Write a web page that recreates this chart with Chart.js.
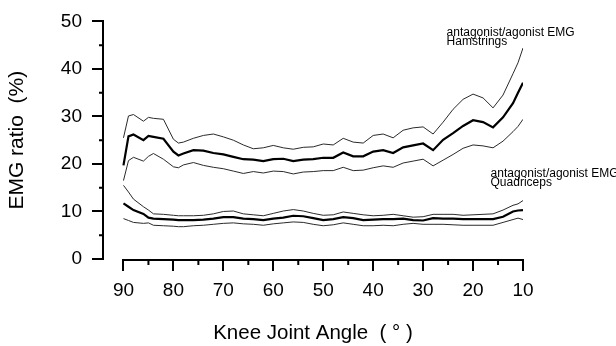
<!DOCTYPE html>
<html>
<head>
<meta charset="utf-8">
<script src="https://cdn.jsdelivr.net/npm/chart.js@4/dist/chart.umd.min.js"></script>
<style>
  html, body { margin: 0; padding: 0; background: #fff; }
</style>
</head>
<body>
<canvas id="emgChart" width="616" height="346"></canvas>
<script>
// Knee joint angle (degrees)
const angles = [90, 89, 88, 86, 85, 84, 82, 80, 79, 78, 76, 74, 72, 70, 68, 66, 64, 62, 60, 58, 56, 54, 52,
  50, 48, 46, 44, 42, 40, 38, 36, 34, 32, 30, 28, 26, 24, 22, 20, 18, 16, 14, 12, 11, 10];

// Hamstrings antagonist/agonist EMG ratio (%): mean and the two band lines
const hamMean = [19.7, 25.8, 26.2, 25.0, 25.9, 25.7, 25.3, 22.6, 21.8, 22.2, 22.9, 22.8, 22.3, 22.0, 21.5, 21.0,
  20.9, 20.6, 21.0, 21.1, 20.6, 20.9, 21.0, 21.3, 21.3, 22.4, 21.6, 21.6, 22.6, 22.9, 22.3, 23.5, 23.9, 24.3,
  22.9, 25.1, 26.5, 28.0, 29.2, 28.8, 27.7, 29.8, 32.8, 35.0, 37.1];
const hamUpper = [25.5, 30.1, 30.4, 29.0, 29.8, 29.6, 29.4, 25.2, 24.4, 24.6, 25.4, 26.0, 26.3, 25.7, 25.0, 24.0,
  23.2, 23.4, 23.9, 23.4, 23.1, 23.5, 23.6, 24.2, 24.0, 25.4, 24.6, 24.4, 26.0, 26.3, 25.5, 27.1, 27.6, 27.8,
  26.3, 28.8, 31.5, 33.6, 34.7, 33.9, 31.8, 34.5, 39.0, 41.3, 44.4];
const hamLower = [16.5, 20.7, 21.4, 20.6, 21.6, 22.2, 21.0, 19.4, 19.2, 19.8, 20.3, 19.7, 19.3, 19.0, 18.5, 18.0,
  18.4, 18.1, 18.5, 18.4, 17.9, 18.3, 18.4, 18.6, 18.6, 19.3, 18.6, 18.7, 19.2, 19.6, 19.3, 20.2, 20.6, 21.0,
  19.6, 20.8, 22.0, 23.3, 24.0, 23.8, 23.4, 24.8, 26.8, 27.9, 29.4];

// Quadriceps antagonist/agonist EMG ratio (%)
const quadMean = [11.7, 11.0, 10.3, 9.5, 8.7, 8.5, 8.4, 8.3, 8.2, 8.2, 8.2, 8.3, 8.5, 8.8, 8.8, 8.5, 8.4, 8.2,
  8.5, 8.7, 9.1, 9.0, 8.6, 8.2, 8.4, 8.8, 8.6, 8.2, 8.3, 8.4, 8.4, 8.5, 8.2, 8.1, 8.6, 8.5, 8.5, 8.4, 8.4, 8.4,
  8.4, 8.9, 10.0, 10.2, 10.3];
const quadUpper = [15.5, 14.1, 12.6, 11.0, 10.3, 9.5, 9.4, 9.2, 9.1, 9.1, 9.1, 9.2, 9.5, 10.0, 10.1, 9.5, 9.3,
  9.1, 9.6, 10.1, 10.4, 10.1, 9.6, 9.2, 9.3, 9.9, 9.6, 9.3, 9.1, 9.2, 9.4, 9.1, 8.8, 8.9, 9.4, 9.4, 9.4, 9.2,
  9.3, 9.4, 9.5, 10.3, 11.3, 11.6, 12.3];
const quadLower = [8.5, 8.1, 7.7, 7.5, 7.6, 7.1, 7.0, 6.9, 6.8, 6.8, 7.0, 7.1, 7.3, 7.5, 7.6, 7.4, 7.3, 7.1, 7.4,
  7.6, 7.8, 7.7, 7.3, 7.0, 7.2, 7.6, 7.3, 7.0, 7.0, 7.1, 7.0, 7.3, 7.5, 7.3, 7.3, 7.3, 7.2, 7.1, 7.1, 7.1, 7.1,
  7.7, 8.3, 8.6, 8.3];

// Axis ticks
const xMajorTicks = [90, 80, 70, 60, 50, 40, 30, 20, 10];
const xMinorTicks = [85, 75, 65, 55, 45, 35, 25, 15];
const yMajorTicks = [0, 10, 20, 30, 40, 50];
const yMinorTicks = [5, 15, 25, 35, 45];

const FONT = "'Liberation Sans', Arial, sans-serif";

function toPoints(values) {
  return angles.map((a, i) => ({ x: a, y: values[i] }));
}

function thinLine(values) {
  return { data: toPoints(values), borderColor: "#2a2a2a", borderWidth: 1, pointRadius: 0, tension: 0 };
}

function thickLine(values) {
  return { data: toPoints(values), borderColor: "#000", borderWidth: 2.2, pointRadius: 0, tension: 0 };
}

// Minor ticks, the x baseline and the two curve labels
const extrasPlugin = {
  id: "extras",
  afterDraw(chart) {
    const { ctx, scales: { x, y } } = chart;
    const base = y.getPixelForValue(0);
    ctx.save();
    ctx.strokeStyle = "#000";
    ctx.lineWidth = 2;
    ctx.beginPath();
    ctx.moveTo(x.getPixelForValue(90) - 1, base + 1);
    ctx.lineTo(x.getPixelForValue(10) + 1, base + 1);
    xMinorTicks.forEach(v => {
      const px = x.getPixelForValue(v);
      ctx.moveTo(px, base);
      ctx.lineTo(px, base + 6);
    });
    const left = chart.chartArea.left;
    yMinorTicks.forEach(v => {
      const py = y.getPixelForValue(v);
      ctx.moveTo(left, py);
      ctx.lineTo(left - 4, py);
    });
    ctx.stroke();

    ctx.fillStyle = "#000";
    ctx.font = "12px " + FONT;
    ctx.textAlign = "left";
    ctx.textBaseline = "alphabetic";
    const hx = x.getPixelForValue(25.3), hy = y.getPixelForValue(46.9);
    ctx.fillText("antagonist/agonist EMG", hx, hy);
    ctx.fillText("Hamstrings", hx, hy + 9);
    const qx = x.getPixelForValue(16.5), qy = y.getPixelForValue(17.3);
    ctx.fillText("antagonist/agonist EMG", qx, qy);
    ctx.fillText("Quadriceps", qx, qy + 9);
    ctx.restore();
  }
};

new Chart(document.getElementById("emgChart").getContext("2d"), {
  type: "line",
  data: {
    datasets: [
      thinLine(quadUpper), thinLine(quadLower), thickLine(quadMean),
      thinLine(hamUpper), thinLine(hamLower), thickLine(hamMean)
    ]
  },
  options: {
    responsive: false,
    animation: false,
    layout: { padding: { top: 20, right: 93, left: 0, bottom: 0 } },
    plugins: { legend: { display: false }, tooltip: { enabled: false } },
    scales: {
      x: {
        type: "linear",
        reverse: true,
        min: 10,
        max: 94.1,
        afterBuildTicks: s => { s.ticks = xMajorTicks.map(v => ({ value: v })); },
        afterFit: s => { s.height = 87; },
        grid: { display: true, drawOnChartArea: false, drawTicks: true, tickLength: 12, color: "#000", lineWidth: 2 },
        border: { display: false },
        ticks: { color: "#000", font: { family: FONT, size: 19 }, padding: 8, maxRotation: 0, autoSkip: false },
        title: {
          display: true, text: "Knee Joint Angle  ( \u00b0 )", color: "#000",
          font: { family: FONT, size: 20.5, lineHeight: 1.25 }, padding: { top: 0, bottom: 0 }
        }
      },
      y: {
        min: 0,
        max: 50,
        afterBuildTicks: s => { s.ticks = yMajorTicks.map(v => ({ value: v })); },
        afterFit: s => { s.width = 103; },
        grid: { display: true, drawOnChartArea: false, drawTicks: true, tickLength: 11, color: "#000", lineWidth: 2 },
        border: { display: true, color: "#000", width: 2 },
        ticks: { color: "#000", font: { family: FONT, size: 19 }, padding: 10 },
        title: {
          display: true, text: "EMG ratio  (%)", color: "#000",
          font: { family: FONT, size: 21 }, padding: { top: 5, bottom: 0 }
        }
      }
    }
  },
  plugins: [extrasPlugin]
});
</script>
</body>
</html>
